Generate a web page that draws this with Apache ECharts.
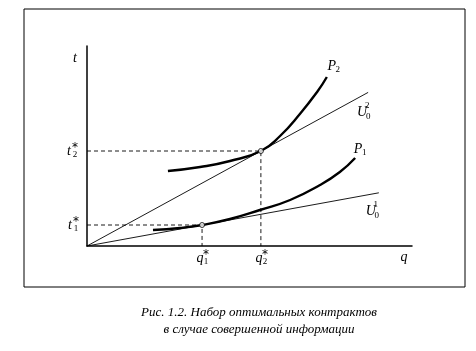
<!DOCTYPE html>
<html>
<head>
<meta charset="utf-8">
<script src="https://cdn.jsdelivr.net/npm/echarts@6/dist/echarts.min.js"></script>
<style>
  html, body { margin: 0; background: #fff; }
  #chart { width: 476px; height: 351px; }
</style>
</head>
<body>
<div id="chart"></div>
<script>
// curve P2 (q, t)
const p2Q = [2.49, 3.48, 4.4, 5.35, 5.94, 6.55, 7.08, 7.38];
const p2T = [3.75, 3.95, 4.25, 4.75, 5.5, 6.6, 7.7, 8.45];
// curve P1
const p1Q = [2.03, 2.86, 3.54, 4.4, 5.32, 6.25, 7.17, 7.78, 8.25];
const p1T = [0.8, 0.9, 1.05, 1.35, 1.8, 2.3, 3.05, 3.7, 4.4];
// rays U0^1, U0^2
const u2Q = [0, 8.65];
const u2T = [0, 7.68];
const u1Q = [0, 8.98];
const u1T = [0, 2.66];
// optimal contracts (q1*, t1*), (q2*, t2*)
const optQ = [3.54, 5.35];
const optT = [1.05, 4.75];

const pairs = (xs, ys) => xs.map((x, i) => [x, ys[i]]);
const serif = '"Liberation Serif", "DejaVu Serif", serif';

let chart = echarts.init(document.getElementById('chart'));

const thin = { color: '#000', width: 0.9 };
const guides = optQ.map((q, i) => ({
    type: 'line',
    data: [[0, optT[i]], [q, optT[i]], [q, 0]],
    symbol: 'none',
    lineStyle: { color: '#000', width: 0.9, type: [4, 3] },
    silent: true
}));

let option = {
    animation: false,
    grid: { left: 87, right: 64, top: 46, bottom: 105 },
    xAxis: {
        type: 'value', min: 0, max: 10,
        axisLine: { lineStyle: { color: '#000', width: 1.5 } },
        axisTick: { show: false }, axisLabel: { show: false }, splitLine: { show: false }
    },
    yAxis: {
        type: 'value', min: 0, max: 10,
        axisLine: { show: true, lineStyle: { color: '#000', width: 1.5 } },
        axisTick: { show: false }, axisLabel: { show: false }, splitLine: { show: false }
    },
    series: [
        ...guides,
        { type: 'line', data: pairs(u2Q, u2T), symbol: 'none', lineStyle: thin },
        { type: 'line', data: pairs(u1Q, u1T), symbol: 'none', lineStyle: thin },
        { type: 'line', data: pairs(p2Q, p2T), symbol: 'none', smooth: 0.5,
          lineStyle: { color: '#000', width: 2.4 } },
        { type: 'line', data: pairs(p1Q, p1T), symbol: 'none', smooth: 0.5,
          lineStyle: { color: '#000', width: 2.4 } },
        { type: 'scatter', data: pairs(optQ, optT), symbol: 'circle', symbolSize: 5,
          itemStyle: { color: '#fff', borderColor: '#000', borderWidth: 1 }, z: 5 }
    ]
};
chart.setOption(option);

// labels placed from data points
const px = (q, t) => chart.convertToPixel({ gridIndex: 0 }, [q, t]);
const texts = [];
function sym(pt, dx, dy, base, sub, sup) {
    const x = pt[0] + dx, y = pt[1] + dy;
    texts.push({ type: 'text', x: x, y: y, style: { text: base, font: 'italic 14px ' + serif,
        fill: '#000', align: 'center', verticalAlign: 'middle' } });
    if (sub) texts.push({ type: 'text', x: x + 6, y: y + 4, style: { text: sub, font: '9px ' + serif,
        fill: '#000', align: 'center', verticalAlign: 'middle' } });
    if (sup === '*') {
        texts.push({ type: 'text', x: x + 6, y: y - 3, style: { text: sup, font: '12px "DejaVu Sans"',
            fill: '#000', align: 'center', verticalAlign: 'middle' } });
    } else if (sup) {
        texts.push({ type: 'text', x: x + 5, y: y - 7, style: { text: sup, font: '9px ' + serif,
            fill: '#000', align: 'center', verticalAlign: 'middle' } });
    }
}
sym(px(0, 10), -12, 12, 't');
sym(px(10, 0), -8, 11, 'q');
sym(px(0, optT[1]), -18, 0, 't', '2', '*');
sym(px(0, optT[0]), -17, 0, 't', '1', '*');
sym(px(optQ[0], 0), -2, 12, 'q', '1', '*');
sym(px(optQ[1], 0), -2, 12, 'q', '2', '*');
sym(px(p2Q[p2Q.length - 1], p2T[p2T.length - 1]), 5, -11, 'P', '2');
sym(px(p1Q[p1Q.length - 1], p1T[p1T.length - 1]), 3, -9, 'P', '1');
sym(px(u2Q[1], u2T[1]), -6, 20, 'U', '0', '2');
sym(px(u1Q[1], u1T[1]), -8, 19, 'U', '0', '1');

chart.setOption({
    graphic: [
        { type: 'rect', shape: { x: 24, y: 9, width: 441, height: 278 },
          style: { fill: 'none', stroke: '#000', lineWidth: 1 }, silent: true },
        ...texts,
        { type: 'text', x: 259, y: 313, style: { text: 'Рис. 1.2. Набор оптимальных контрактов',
          font: 'italic 13px ' + serif, fill: '#000', align: 'center', verticalAlign: 'middle' } },
        { type: 'text', x: 259, y: 330, style: { text: 'в случае совершенной информации',
          font: 'italic 13px ' + serif, fill: '#000', align: 'center', verticalAlign: 'middle' } }
    ]
});
</script>
</body>
</html>
